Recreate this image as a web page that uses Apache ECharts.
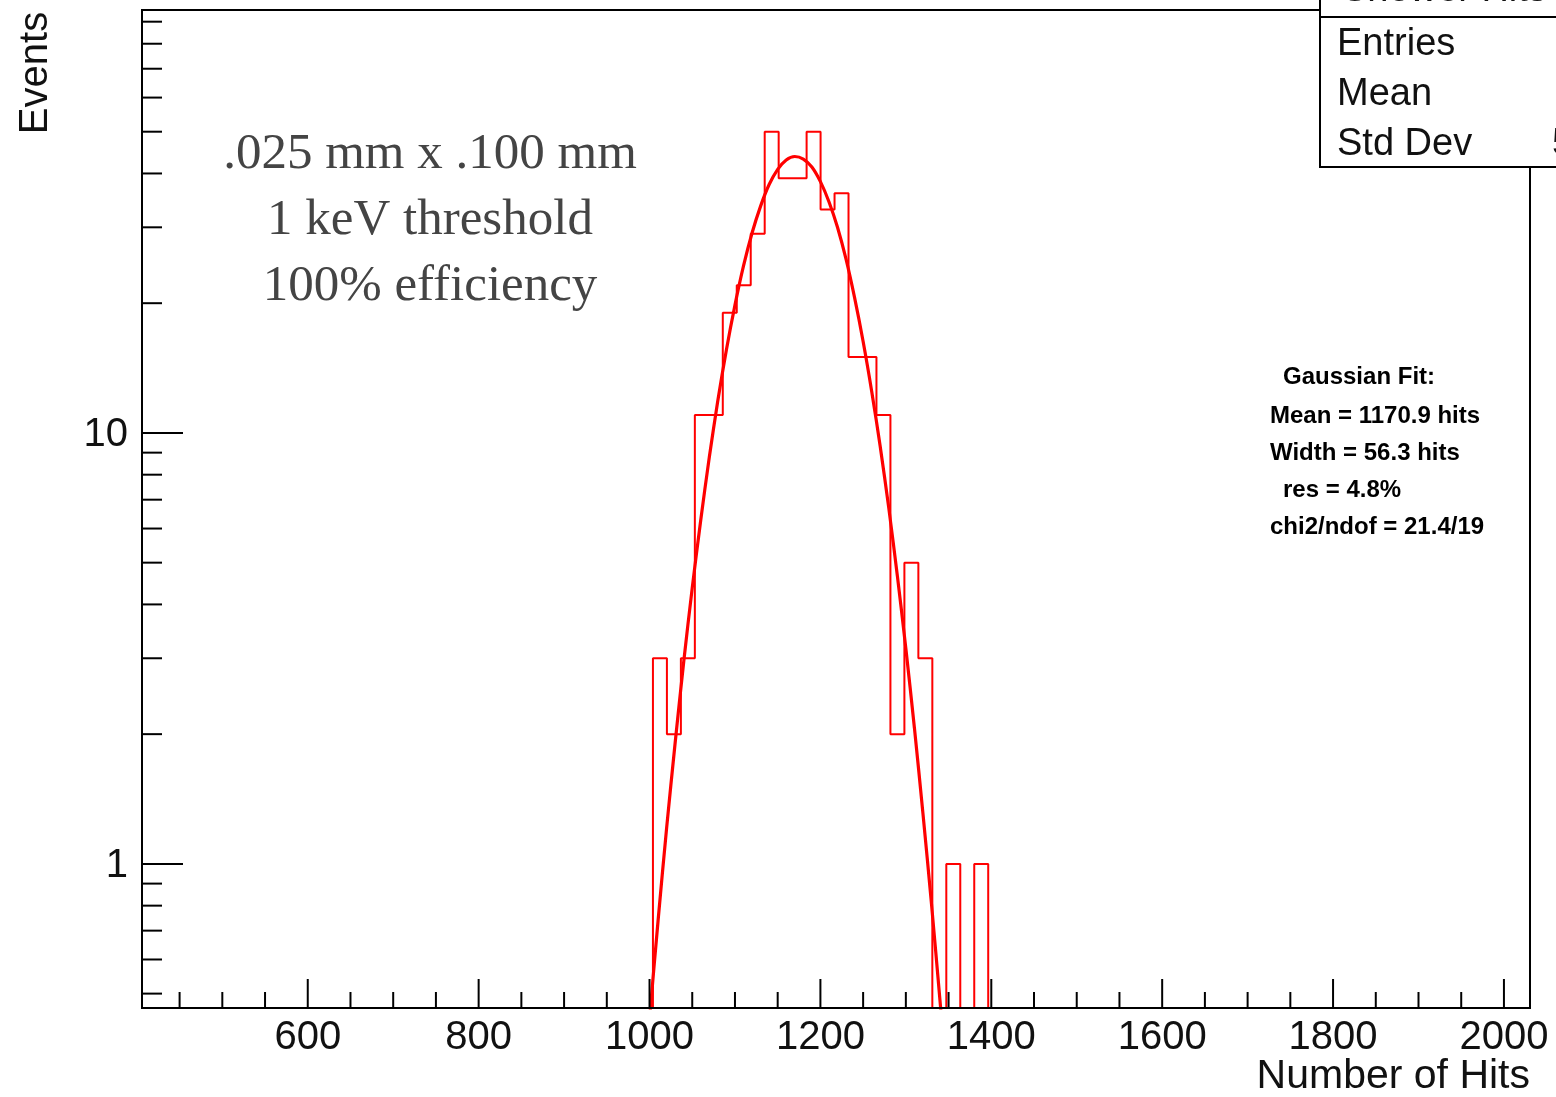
<!DOCTYPE html>
<html><head><meta charset="utf-8">
<script src="https://cdn.jsdelivr.net/npm/echarts@6/dist/echarts.min.js"></script>
<style>html,body{margin:0;padding:0;background:#fff}#c{width:1556px;height:1097px}</style>
</head><body><div id="c"></div>
<script>
// ---- data ----
const binStart = 1004;
const binWidth = 16.35;
const counts = [3, 2, 3, 11, 11, 19, 22, 29, 50, 39, 39, 50, 33, 36, 15, 15, 11, 2, 5, 3, 0, 1, 0, 1];
// Gaussian fit curve (Mean 1170.9, Width 56.3)
const fitX = [1000, 1010, 1020, 1030, 1040, 1050, 1060, 1070, 1080, 1090, 1100, 1110, 1120, 1130, 1140, 1150, 1160, 1170, 1180, 1190, 1200, 1210, 1220, 1230, 1240, 1250, 1260, 1270, 1280, 1290, 1300, 1310, 1320, 1330, 1340, 1345];
const fitY = [0.437, 0.738, 1.21, 1.91, 2.94, 4.37, 6.29, 8.79, 11.9, 15.6, 19.8, 24.4, 29.1, 33.6, 37.7, 40.9, 43.0, 43.8, 43.2, 41.4, 38.3, 34.4, 30.0, 25.3, 20.6, 16.3, 12.5, 9.30, 6.70, 4.67, 3.16, 2.07, 1.31, 0.808, 0.481, 0.367];
const xMajorTicks = [600, 800, 1000, 1200, 1400, 1600, 1800, 2000];
const xTickLabels = ['600', '800', '1000', '1200', '1400', '1600', '1800', '2000'];
const xMinorTicks = [450, 500, 550, 650, 700, 750, 850, 900, 950, 1050, 1100, 1150, 1250, 1300, 1350, 1450, 1500, 1550, 1650, 1700, 1750, 1850, 1900, 1950];
const yMajorTicks = [1, 10];
const yTickLabels = ['1', '10'];
const yMinorTicks = [0.5, 0.6, 0.7, 0.8, 0.9, 2, 3, 4, 5, 6, 7, 8, 9, 20, 30, 40, 50, 60, 70, 80, 90];
const xMin = 406, xMax = 2030.5;
const yMin = 0.463, yMax = 95.8;
const xTitle = 'Number of Hits';
const yTitle = 'Events';
const noteLines = ['.025 mm x .100 mm', '1 keV threshold', '100% efficiency'];
const fitLines = ['Gaussian Fit:', 'Mean = 1170.9 hits', 'Width = 56.3 hits', 'res = 4.8%', 'chi2/ndof = 21.4/19'];
const statsTitle = 'Shower Hits Limits';
const statsNames = ['Entries', 'Mean', 'Std Dev'];
const statsVisibleValue = '5';

// ---- build histogram outline ----
const histPts = [[binStart, yMin]];
counts.forEach((c, i) => {
  const v = c > 0 ? c : yMin;
  histPts.push([binStart + i * binWidth, v]);
  histPts.push([binStart + (i + 1) * binWidth, v]);
});
histPts.push([binStart + counts.length * binWidth, yMin]);
const fitPts = fitX.map((x, i) => [x, fitY[i]]);

const SANS = '"Liberation Sans", Arial, Helvetica, sans-serif';
const SERIF = '"Liberation Serif", "Times New Roman", serif';

const chart = echarts.init(document.getElementById('c'), null, {renderer: 'canvas'});
chart.setOption({
  animation: false,
  backgroundColor: '#fff',
  grid: {left: 142, top: 10, right: 26, bottom: 89, show: true, borderColor: '#000', borderWidth: 2, backgroundColor: 'transparent'},
  xAxis: {
    type: 'value', min: xMin, max: xMax, z: 10,
    axisLine: {show: true, lineStyle: {color: '#000', width: 2}},
    axisTick: {show: false}, axisLabel: {show: false}, splitLine: {show: false}
  },
  yAxis: {
    type: 'log', logBase: 10, min: yMin, max: yMax, z: 10,
    axisLine: {show: true, lineStyle: {color: '#000', width: 2}},
    axisTick: {show: false}, axisLabel: {show: false}, splitLine: {show: false}, minorTick: {show: false}
  },
  series: [
    {
      type: 'line', data: histPts, showSymbol: false, symbol: 'none', z: 3,
      lineStyle: {color: '#ff0000', width: 2}, silent: true
    },
    {
      type: 'line', data: fitPts, showSymbol: false, symbol: 'none', smooth: 0.3, z: 4,
      lineStyle: {color: '#ff0000', width: 3.2}, silent: true
    },
    {
      type: 'custom', coordinateSystem: 'cartesian2d', silent: true, z: 11, clip: false,
      data: xMajorTicks.map((v, i) => [v, yMin, 1, i]).concat(xMinorTicks.map(v => [v, yMin, 0, -1])),
      renderItem: function (params, api) {
        const p = api.coord([api.value(0), api.value(1)]);
        const major = api.value(2) === 1;
        const len = major ? 29 : 16;
        const ch = [{type: 'line', shape: {x1: p[0], y1: p[1], x2: p[0], y2: p[1] - len}, style: {stroke: '#000', lineWidth: 2}}];
        if (major) {
          ch.push({type: 'text', x: p[0], y: p[1] + 30,
            style: {text: xTickLabels[api.value(3)], fill: '#111', font: '40px ' + SANS, align: 'center', verticalAlign: 'middle'}});
        }
        return {type: 'group', children: ch};
      }
    },
    {
      type: 'custom', coordinateSystem: 'cartesian2d', silent: true, z: 11, clip: false,
      data: yMajorTicks.map((v, i) => [xMin, v, 1, i]).concat(yMinorTicks.map(v => [xMin, v, 0, -1])),
      renderItem: function (params, api) {
        const p = api.coord([api.value(0), api.value(1)]);
        const major = api.value(2) === 1;
        const len = major ? 41 : 20;
        const ch = [{type: 'line', shape: {x1: p[0], y1: p[1], x2: p[0] + len, y2: p[1]}, style: {stroke: '#000', lineWidth: 2}}];
        if (major) {
          ch.push({type: 'text', x: p[0] - 14, y: p[1] + 2,
            style: {text: yTickLabels[api.value(3)], fill: '#111', font: '40px ' + SANS, align: 'right', verticalAlign: 'middle'}});
        }
        return {type: 'group', children: ch};
      }
    }
  ],
  graphic: [
    // stats box
    {type: 'rect', shape: {x: 1320, y: -10, width: 260, height: 177}, style: {fill: '#fff', stroke: '#000', lineWidth: 2}, z: 100},
    {type: 'line', shape: {x1: 1320, y1: 17, x2: 1560, y2: 17}, style: {stroke: '#000', lineWidth: 2}, z: 101},
    {type: 'text', x: 1342, y: -9, style: {text: statsTitle, fill: '#111', font: '38px ' + SANS, verticalAlign: 'middle'}, z: 101},
    {type: 'text', x: 1337, y: 45, style: {text: statsNames[0], fill: '#111', font: '38px ' + SANS, verticalAlign: 'middle'}, z: 101},
    {type: 'text', x: 1337, y: 95, style: {text: statsNames[1], fill: '#111', font: '38px ' + SANS, verticalAlign: 'middle'}, z: 101},
    {type: 'text', x: 1337, y: 145, style: {text: statsNames[2], fill: '#111', font: '38px ' + SANS, verticalAlign: 'middle'}, z: 101},
    {type: 'text', x: 1552, y: 145, style: {text: statsVisibleValue, fill: '#111', font: '38px ' + SANS, verticalAlign: 'middle'}, z: 101},
    // axis titles
    {type: 'text', x: 1530, y: 1077, style: {text: xTitle, fill: '#111', font: '41px ' + SANS, align: 'right', verticalAlign: 'middle'}, z: 101},
    {type: 'text', x: 36, y: 73, rotation: Math.PI / 2, style: {text: yTitle, fill: '#111', font: '40px ' + SANS, align: 'center', verticalAlign: 'middle'}, z: 101},
    // serif note
    {type: 'text', x: 430, y: 155, style: {text: noteLines[0], fill: '#444', font: '51px ' + SERIF, align: 'center', verticalAlign: 'middle'}, z: 101},
    {type: 'text', x: 430, y: 221, style: {text: noteLines[1], fill: '#444', font: '51px ' + SERIF, align: 'center', verticalAlign: 'middle'}, z: 101},
    {type: 'text', x: 430, y: 287, style: {text: noteLines[2], fill: '#444', font: '51px ' + SERIF, align: 'center', verticalAlign: 'middle'}, z: 101},
    // fit text
    {type: 'text', x: 1283, y: 377, style: {text: fitLines[0], fill: '#000', font: 'bold 24px ' + SANS, verticalAlign: 'middle'}, z: 101},
    {type: 'text', x: 1270, y: 416, style: {text: fitLines[1], fill: '#000', font: 'bold 24px ' + SANS, verticalAlign: 'middle'}, z: 101},
    {type: 'text', x: 1270, y: 453, style: {text: fitLines[2], fill: '#000', font: 'bold 24px ' + SANS, verticalAlign: 'middle'}, z: 101},
    {type: 'text', x: 1283, y: 490, style: {text: fitLines[3], fill: '#000', font: 'bold 24px ' + SANS, verticalAlign: 'middle'}, z: 101},
    {type: 'text', x: 1270, y: 527, style: {text: fitLines[4], fill: '#000', font: 'bold 24px ' + SANS, verticalAlign: 'middle'}, z: 101}
  ]
});
</script>
</body></html>
